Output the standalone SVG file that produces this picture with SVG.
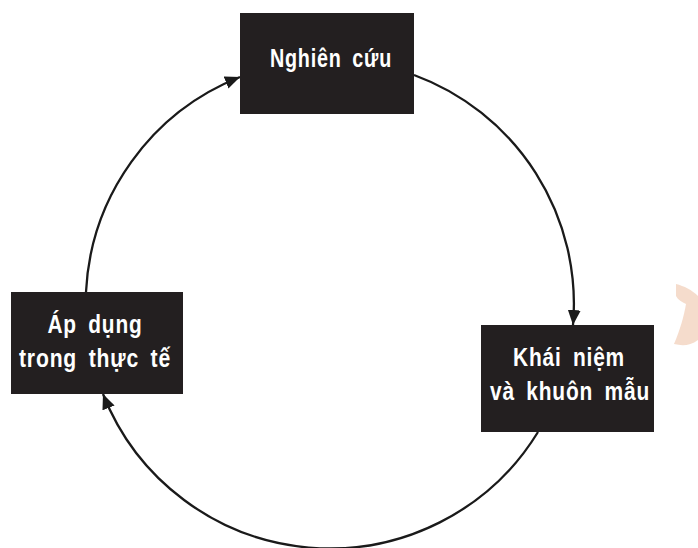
<svg xmlns="http://www.w3.org/2000/svg" width="698" height="548" viewBox="0 0 698 548">
<style>
.box{fill:#231f20;}
.lbl{fill:#ffffff;font-family:"Liberation Sans",Arial,sans-serif;font-weight:bold;font-size:26px;letter-spacing:1px;word-spacing:6px;text-anchor:middle;}
.arc{fill:none;stroke:#1a1a1a;stroke-width:2.3;}
</style>
<defs>
<marker id="arr" markerUnits="userSpaceOnUse" markerWidth="16" markerHeight="13" refX="15" refY="6.5" orient="auto">
<path d="M0,0 L15,6.5 L0,13 z" fill="#1a1a1a"/>
</marker>
</defs>
<rect width="698" height="548" fill="#ffffff"/>
<path d="M676,284 C684,286 692,290 698,296 L698,340 C690,346 682,346 674,344 C680,330 684,316 686,304 C682,302 678,300 676,296 Z" fill="#f2d3bf" opacity="0.8"/>
<g id="connectors">
<path class="arc" d="M86,292 A244,244 0 0 1 240,77" marker-end="url(#arr)"/>
<path class="arc" d="M414,75 A244,244 0 0 1 573,325" marker-end="url(#arr)"/>
<path class="arc" d="M538,432 A244,244 0 0 1 103,394" marker-end="url(#arr)"/>
</g>
<g id="node-nghien-cuu">
<rect class="box" x="240" y="13" width="174" height="101"/>
<text class="lbl" x="331" y="67" textLength="122" lengthAdjust="spacingAndGlyphs">Nghiên cứu</text>
</g>
<g id="node-khai-niem">
<rect class="box" x="481" y="325" width="173" height="107"/>
<text class="lbl" x="569" y="366" textLength="112" lengthAdjust="spacingAndGlyphs">Khái niệm</text>
<text class="lbl" x="570" y="400" textLength="160" lengthAdjust="spacingAndGlyphs">và khuôn mẫu</text>
</g>
<g id="node-ap-dung">
<rect class="box" x="11" y="292" width="172" height="102"/>
<text class="lbl" x="95" y="333" textLength="95" lengthAdjust="spacingAndGlyphs">Áp dụng</text>
<text class="lbl" x="95" y="367" textLength="152" lengthAdjust="spacingAndGlyphs">trong thực tế</text>
</g>
</svg>
